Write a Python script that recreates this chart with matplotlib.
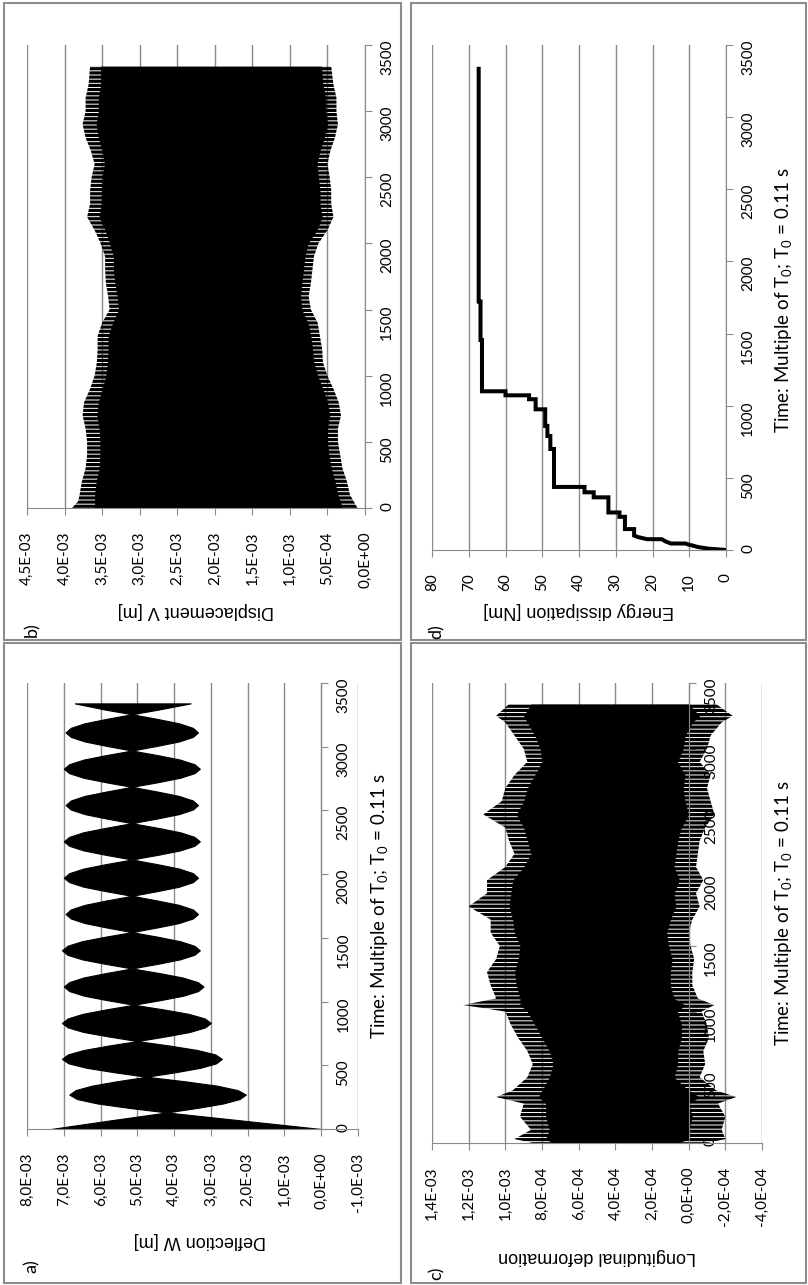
import numpy as np
import matplotlib
matplotlib.use("Agg")
import matplotlib.pyplot as plt
from matplotlib.patches import Rectangle
from matplotlib.ticker import FixedLocator, FixedFormatter

plt.rcParams['font.family'] = ['Lato', 'DejaVu Sans']
plt.rcParams['mathtext.default'] = 'regular'
plt.rcParams['hatch.linewidth'] = 2.3
plt.rcParams['hatch.color'] = 'black'

# ---------------- data ----------------
time_ticks = [0, 500, 1000, 1500, 2000, 2500, 3000, 3500]
time_labels = ["0", "500", "1000", "1500", "2000", "2500", "3000", "3500"]

# a) Deflection W [m]  (envelope of the oscillation, values in 1E-03 m)
a_time = [0, 65, 130,
          165, 200, 235, 270, 305, 340, 375, 410,
          445, 480, 515, 550, 585, 620, 655, 690,
          726, 761, 797, 832, 868, 904, 939, 975,
          1011, 1046, 1082, 1118, 1153, 1189, 1224, 1260,
          1296, 1331, 1367, 1402, 1438, 1474, 1509, 1545,
          1581, 1616, 1652, 1687, 1723, 1759, 1794, 1830,
          1866, 1901, 1937, 1972, 2008, 2044, 2079, 2115,
          2151, 2186, 2222, 2257, 2293, 2329, 2364, 2400,
          2436, 2471, 2507, 2542, 2578, 2614, 2649, 2685,
          2721, 2756, 2792, 2827, 2863, 2899, 2934, 2970,
          3006, 3041, 3077, 3112, 3148, 3184, 3219, 3255,
          3290, 3340]
a_upper = [7.35, 5.8, 4.2,
           5.21, 6.08, 6.64, 6.85, 6.68, 6.24, 5.55, 4.75,
           5.62, 6.38, 6.87, 7.05, 6.89, 6.46, 5.78, 5.0,
           5.78, 6.46, 6.89, 7.05, 6.89, 6.48, 5.84, 5.1,
           5.82, 6.45, 6.85, 7.0, 6.85, 6.46, 5.85, 5.15,
           5.87, 6.50, 6.90, 7.05, 6.90, 6.50, 5.87, 5.15,
           5.83, 6.43, 6.81, 6.95, 6.81, 6.43, 5.83, 5.15,
           5.85, 6.46, 6.85, 7.0, 6.85, 6.46, 5.85, 5.15,
           5.85, 6.46, 6.85, 7.0, 6.85, 6.46, 5.85, 5.15,
           5.83, 6.43, 6.81, 6.95, 6.81, 6.43, 5.83, 5.15,
           5.85, 6.46, 6.85, 7.0, 6.85, 6.46, 5.85, 5.15,
           5.83, 6.43, 6.81, 6.95, 6.81, 6.43, 5.83, 5.15,
           5.85, 6.7]
a_lower = [0.0, 2.1, 4.2,
           3.38, 2.67, 2.22, 2.05, 2.27, 2.83, 3.72, 4.75,
           3.97, 3.29, 2.86, 2.7, 2.88, 3.37, 4.13, 5.0,
           4.24, 3.58, 3.16, 3.0, 3.17, 3.61, 4.30, 5.1,
           4.38, 3.75, 3.35, 3.2, 3.36, 3.77, 4.41, 5.15,
           4.45, 3.84, 3.45, 3.3, 3.45, 3.84, 4.45, 5.15,
           4.47, 3.87, 3.49, 3.35, 3.49, 3.87, 4.47, 5.15,
           4.47, 3.87, 3.49, 3.35, 3.49, 3.87, 4.47, 5.15,
           4.45, 3.84, 3.45, 3.3, 3.45, 3.84, 4.45, 5.15,
           4.47, 3.87, 3.49, 3.35, 3.49, 3.87, 4.47, 5.15,
           4.45, 3.84, 3.45, 3.3, 3.45, 3.84, 4.45, 5.15,
           4.47, 3.87, 3.49, 3.35, 3.49, 3.87, 4.47, 5.15,
           4.45, 3.55]
a_ticks = [8e-3, 7e-3, 6e-3, 5e-3, 4e-3, 3e-3, 2e-3, 1e-3, 0.0, -1e-3]
a_tick_labels = ["8,0E-03", "7,0E-03", "6,0E-03", "5,0E-03", "4,0E-03", "3,0E-03",
                 "2,0E-03", "1,0E-03", "0,0E+00", "-1,0E-03"]

# b) Displacement V [m]  (values in 1E-03 m)
b_time = [0, 50, 100, 200, 300, 400, 500, 600, 700, 800, 900, 1000, 1100, 1200, 1300,
          1400, 1500, 1600, 1700, 1800, 1900, 2000, 2100, 2200, 2300, 2400, 2500,
          2600, 2700, 2800, 2900, 3000, 3100, 3200, 3340]
b_peak_upper = [3.9, 3.82, 3.8, 3.77, 3.72, 3.7, 3.7, 3.72, 3.76, 3.74, 3.66, 3.6, 3.57,
                3.56, 3.56, 3.5, 3.4, 3.42, 3.45, 3.46, 3.46, 3.52, 3.6, 3.7, 3.66, 3.66,
                3.64, 3.6, 3.65, 3.72, 3.76, 3.72, 3.72, 3.68, 3.66]
b_peak_lower = [0.1, 0.15, 0.2, 0.24, 0.3, 0.33, 0.36, 0.36, 0.32, 0.35, 0.42, 0.5, 0.56,
                0.57, 0.6, 0.63, 0.72, 0.75, 0.72, 0.7, 0.68, 0.62, 0.5, 0.42, 0.45, 0.45,
                0.47, 0.5, 0.46, 0.4, 0.36, 0.38, 0.38, 0.42, 0.45]
b_core_upper = [3.6, 3.6, 3.6, 3.58, 3.54, 3.53, 3.53, 3.54, 3.57, 3.55, 3.5, 3.45, 3.43,
                3.42, 3.42, 3.36, 3.28, 3.3, 3.33, 3.35, 3.35, 3.4, 3.46, 3.54, 3.51,
                3.51, 3.5, 3.47, 3.5, 3.55, 3.58, 3.55, 3.55, 3.52, 3.52]
b_core_lower = [0.3, 0.33, 0.36, 0.4, 0.45, 0.48, 0.5, 0.5, 0.47, 0.5, 0.56, 0.63, 0.68,
                0.7, 0.72, 0.76, 0.84, 0.86, 0.84, 0.82, 0.8, 0.76, 0.64, 0.57, 0.6,
                0.6, 0.62, 0.64, 0.6, 0.54, 0.5, 0.52, 0.52, 0.56, 0.58]
b_ticks = [4.5e-3, 4.0e-3, 3.5e-3, 3.0e-3, 2.5e-3, 2.0e-3, 1.5e-3, 1.0e-3, 0.5e-3, 0.0]
b_tick_labels = ["4,5E-03", "4,0E-03", "3,5E-03", "3,0E-03", "2,5E-03", "2,0E-03",
                 "1,5E-03", "1,0E-03", "5,0E-04", "0,0E+00"]

# c) Longitudinal deformation  (values in 1E-04)
c_time = [0, 30, 100, 200, 300, 350, 400, 500, 600, 700, 800, 900, 1000, 1050, 1100,
          1200, 1300, 1400, 1500, 1600, 1700, 1800, 1900, 2000, 2100, 2200, 2300, 2400,
          2500, 2600, 2700, 2800, 2900, 3000, 3100, 3200, 3250, 3340]
c_peak_upper = [8.5, 9.5, 8.6, 9.2, 9.0, 10.5, 9.6, 8.8, 8.5, 8.8, 9.3, 9.7, 10.0, 12.3,
                10.5, 10.8, 11.0, 10.5, 10.3, 10.8, 10.8, 12.0, 11.0, 11.0, 10.0, 9.5,
                9.8, 10.0, 11.2, 10.2, 10.0, 9.5, 8.8, 9.0, 9.5, 10.0, 10.5, 9.8]
c_peak_lower = [-1.0, -2.0, -1.8, -2.0, -1.6, -2.6, -1.5, -0.6, -0.9, -0.8, -1.1, -1.0,
                -0.7, -1.4, -0.5, -0.2, -0.2, -0.3, -0.1, 0.0, -0.2, -0.6, -0.4, -0.8,
                -0.4, -0.5, -0.6, -0.9, -1.4, -1.2, -1.0, -1.2, -0.6, -1.0, -1.2, -1.8,
                -2.4, -1.5]
c_core_upper = [7.4, 7.8, 7.6, 7.8, 7.8, 8.2, 8.0, 7.6, 7.4, 7.6, 8.0, 8.4, 8.8, 9.2,
                9.2, 9.4, 9.5, 9.3, 9.2, 9.5, 9.6, 9.8, 9.7, 9.6, 9.0, 8.6, 8.8, 9.0,
                9.4, 9.0, 8.8, 8.4, 8.0, 8.1, 8.4, 8.8, 9.0, 8.6]
c_core_lower = [0.6, 0.0, 0.0, -0.2, 0.0, -0.6, 0.0, 0.8, 0.6, 0.6, 0.4, 0.4, 0.6, 0.2,
                0.8, 1.0, 1.0, 0.9, 1.1, 1.2, 1.0, 0.7, 0.8, 0.5, 0.8, 0.7, 0.6, 0.4,
                0.0, 0.2, 0.3, 0.2, 0.6, 0.3, 0.2, -0.2, -0.6, 0.0]
c_ticks = [14e-4, 12e-4, 10e-4, 8e-4, 6e-4, 4e-4, 2e-4, 0.0, -2e-4, -4e-4]
c_tick_labels = ["1,4E-03", "1,2E-03", "1,0E-03", "8,0E-04", "6,0E-04", "4,0E-04",
                 "2,0E-04", "0,0E+00", "-2,0E-04", "-4,0E-04"]

# d) Energy dissipation [Nm]
d_time = [0, 10, 20, 30, 40, 45, 45, 60, 75, 75, 90, 100, 145, 145, 230, 230, 260, 260,
          365, 365, 400, 400, 437, 437, 700, 700, 790, 790, 860, 860, 975, 975, 1045,
          1045, 1072, 1072, 1100, 1100, 1455, 1455, 1722, 1722, 3335]
d_energy = [0, 5, 7.5, 9, 10.5, 11, 15, 16.5, 17.5, 21.5, 24, 25, 25, 27.5, 27.5, 29, 29,
            32, 32, 36, 36, 38.5, 38.5, 46.8, 46.8, 47.8, 47.8, 48.6, 48.6, 49.2, 49.2,
            51.8, 51.8, 53.6, 53.6, 60, 60, 66.4, 66.4, 66.8, 66.8, 67.3, 67.3]
d_ticks = [80, 70, 60, 50, 40, 30, 20, 10, 0]
d_tick_labels = ["80", "70", "60", "50", "40", "30", "20", "10", "0"]

# ---------------- layout ----------------
W, H = 808, 1285
fig = plt.figure(figsize=(W / 100, H / 100), dpi=100)
GRID = '#8a8a8a'
TIME_LABEL = "Time: Multiple of T$_0$; T$_0$ = 0.11 s"


def px_axes(x0, x1, ytop, ybot):
    return fig.add_axes([x0 / W, 1 - ybot / H, (x1 - x0) / W, (ybot - ytop) / H])


def ftext(x, y, s, **kw):
    fig.text(x / W, 1 - y / H, s, **kw)


def setup(ax, ticks, labels):
    ax.set_xlim(ticks[0], ticks[-1])
    ax.set_ylim(0, 3500)
    ax.xaxis.set_major_locator(FixedLocator(ticks))
    ax.xaxis.set_major_formatter(FixedFormatter(labels))
    ax.yaxis.set_major_locator(FixedLocator(time_ticks))
    ax.yaxis.set_major_formatter(FixedFormatter(time_labels))
    ax.set_axisbelow(True)
    ax.grid(axis='x', color=GRID, lw=1.0)
    ax.grid(axis='y', visible=False)
    ax.spines['top'].set_visible(False)
    ax.spines['left'].set_visible(False)
    ax.spines['bottom'].set_color(GRID)
    ax.spines['right'].set_color(GRID)
    ax.spines['right'].set_position(('data', 0))
    ax.yaxis.tick_right()
    ax.tick_params(axis='y', direction='out', length=5, color=GRID, labelsize=11,
                   labelrotation=90, pad=6)
    ax.tick_params(axis='x', direction='out', length=5, color=GRID, labelsize=11,
                   labelrotation=90, pad=12)
    ax.patch.set_alpha(0)


def band(ax, t, lo_peak, hi_peak, lo_core, hi_core, scale):
    t = np.array(t)
    ax.fill_betweenx(t, np.array(lo_peak) * scale, np.array(hi_peak) * scale,
                     facecolor='none', edgecolor='black', hatch='----', lw=0)
    ax.fill_betweenx(t, np.array(lo_core) * scale, np.array(hi_core) * scale,
                     color='black', lw=0)


# b) top-left
axb = px_axes(27, 365, 45, 508)
setup(axb, b_ticks, b_tick_labels)
band(axb, b_time, b_peak_lower, b_peak_upper, b_core_lower, b_core_upper, 1e-3)

# d) top-right
axd = px_axes(432, 726, 45, 550)
setup(axd, d_ticks, d_tick_labels)
axd.plot(d_energy, d_time, color='black', lw=2.9, solid_joinstyle='miter')

# a) bottom-left
axa = px_axes(27, 358, 683, 1129)
setup(axa, a_ticks, a_tick_labels)
axa.fill_betweenx(a_time, np.array(a_lower) * 1e-3, np.array(a_upper) * 1e-3,
                  facecolor='black', edgecolor='black', lw=0.8)

# c) bottom-right
axc = px_axes(432, 762, 683, 1143)
setup(axc, c_ticks, c_tick_labels)
band(axc, c_time, c_peak_lower, c_peak_upper, c_core_lower, c_core_upper, 1e-4)

# value-axis titles (rotated 180) and panel letters
lab_kw = dict(rotation=180, ha='center', va='center', fontsize=13,
              family=['Liberation Sans', 'DejaVu Sans'])
ftext(196, 611, "Displacement V [m]", **lab_kw)
ftext(579, 611, "Energy dissipation [Nm]", **lab_kw)
ftext(200, 1240, "Deflection W [m]", **lab_kw)
ftext(597, 1257, "Longitudinal deformation", **lab_kw)

let_kw = dict(rotation=90, ha='center', va='center', fontsize=13)
ftext(32, 630, "b)", **let_kw)
ftext(437, 632, "d)", **let_kw)
ftext(32, 1266, "a)", **let_kw)
ftext(437, 1273, "c)", **let_kw)

# time titles
t_kw = dict(rotation=90, ha='center', va='center', fontsize=13.5)
ftext(784, 300, TIME_LABEL, **t_kw)
ftext(380, 906, TIME_LABEL, **t_kw)
ftext(784, 913, TIME_LABEL, **t_kw)

# panel frames
for (x0, y0, x1, y1) in [(4, 3, 401, 640), (411, 3, 806, 640),
                         (4, 643, 401, 1283), (411, 643, 806, 1283)]:
    fig.add_artist(Rectangle((x0 / W, 1 - y1 / H), (x1 - x0) / W, (y1 - y0) / H,
                             transform=fig.transFigure, fill=False, ec='#8c8c8c', lw=1.5))

fig.savefig("out.png", dpi=100)
